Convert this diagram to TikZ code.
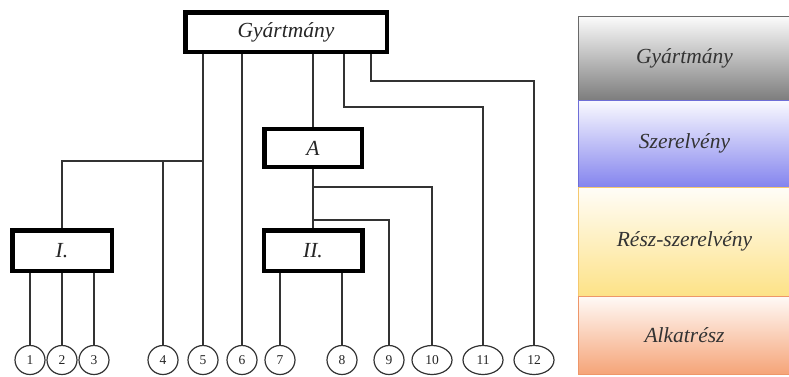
\documentclass[tikz,border=0pt]{standalone}
\usepackage{fontspec}
\setmainfont{Liberation Serif}
\usetikzlibrary{shapes.geometric}

\definecolor{lvlgrayT}{RGB}{252,252,252}
\definecolor{lvlgrayB}{RGB}{125,125,125}
\definecolor{lvlgrayD}{RGB}{105,105,105}
\definecolor{lvlblueT}{RGB}{250,250,255}
\definecolor{lvlblueB}{RGB}{132,132,238}
\definecolor{lvlblueD}{RGB}{110,110,215}
\definecolor{lvlyelT}{RGB}{255,253,248}
\definecolor{lvlyelB}{RGB}{253,226,135}
\definecolor{lvlyelD}{RGB}{245,200,110}
\definecolor{lvlorT}{RGB}{255,250,247}
\definecolor{lvlorB}{RGB}{245,164,120}
\definecolor{lvlorD}{RGB}{238,150,105}

\begin{document}
\begin{tikzpicture}[x=1pt,y=-1pt,
  labelfont/.style={font=\fontsize{21.5}{24}\selectfont\itshape},
  blk/.style={draw=black,line width=4.5pt,fill=white,inner sep=0pt,
    labelfont,text=black!85},
  part/.style={ellipse,draw=black!80,line width=1.2pt,fill=white,inner sep=0pt,
    minimum width=30pt,minimum height=29pt,
    font=\fontsize{13.5}{14}\selectfont,text=black!85},
  widepart/.style={part,minimum width=40pt},
  conn/.style={draw=black!80,line width=1.3pt},
  band/.style={line width=1pt,inner sep=0pt,minimum width=213pt,
    labelfont,text=black!80}]

\useasboundingbox (0,0) rectangle (789,376);

% assembly blocks
\node[blk,minimum width=201.5pt,minimum height=39.5pt] (gy) at (286,32) {Gyártmány};
\node[blk,minimum width=97.5pt,minimum height=38pt] (A) at (313,148) {A};
\node[blk,minimum width=99.5pt,minimum height=40.5pt] (I) at (62,250.5) {I.};
\node[blk,minimum width=98.5pt,minimum height=40.5pt] (II) at (313,250.5) {II.};

% parts
\node[part] (c1) at (30,360) {1};
\node[part] (c2) at (62,360) {2};
\node[part] (c3) at (94,360) {3};
\node[part] (c4) at (163,360) {4};
\node[part] (c5) at (203,360) {5};
\node[part] (c6) at (242,360) {6};
\node[part] (c7) at (280,360) {7};
\node[part] (c8) at (342,360) {8};
\node[part] (c9) at (389,360) {9};
\node[widepart] (c10) at (432,360) {10};
\node[widepart] (c11) at (483,360) {11};
\node[widepart] (c12) at (534,360) {12};

% bends of the connectors
\coordinate (r1) at (0,161);
\coordinate (k12) at (371,81);
\coordinate (k11) at (344,107);
\coordinate (k10) at (313,187);
\coordinate (k9) at (313,220);

% connectors
\draw[conn] (gy.south -| c5) -- (c5.north);
\draw[conn] (r1 -| c5) -| (I.north);
\draw[conn] (r1 -| c4) -- (c4.north);
\draw[conn] (gy.south -| c6) -- (c6.north);
\draw[conn] (gy.south -| A) -- (A.north);
\draw[conn] (gy.south -| k11) -- (k11) -| (c11.north);
\draw[conn] (gy.south -| k12) -- (k12) -| (c12.north);
\draw[conn] (A.south) -- (II.north);
\draw[conn] (k10) -| (c10.north);
\draw[conn] (k9) -| (c9.north);
\draw[conn] (I.south -| c1) -- (c1.north);
\draw[conn] (I.south -| c2) -- (c2.north);
\draw[conn] (I.south -| c3) -- (c3.north);
\draw[conn] (II.south -| c7) -- (c7.north);
\draw[conn] (II.south -| c8) -- (c8.north);

% level legend
\node[band,draw=lvlgrayD,top color=lvlgrayT,bottom color=lvlgrayB,
  minimum height=84pt] (lg) at (684.5,58) {Gyártmány};
\node[band,draw=lvlblueD,top color=lvlblueT,bottom color=lvlblueB,
  minimum height=87pt] (lb) at (684.5,143.5) {Szerelvény};
\node[band,draw=lvlyelD,top color=lvlyelT,bottom color=lvlyelB,
  minimum height=109pt] (ly) at (684.5,241.5) {Rész-szerelvény};
\node[band,draw=lvlorD,top color=lvlorT,bottom color=lvlorB,
  minimum height=78pt] (lo) at (684.5,335) {Alkatrész};
\end{tikzpicture}
\end{document}
